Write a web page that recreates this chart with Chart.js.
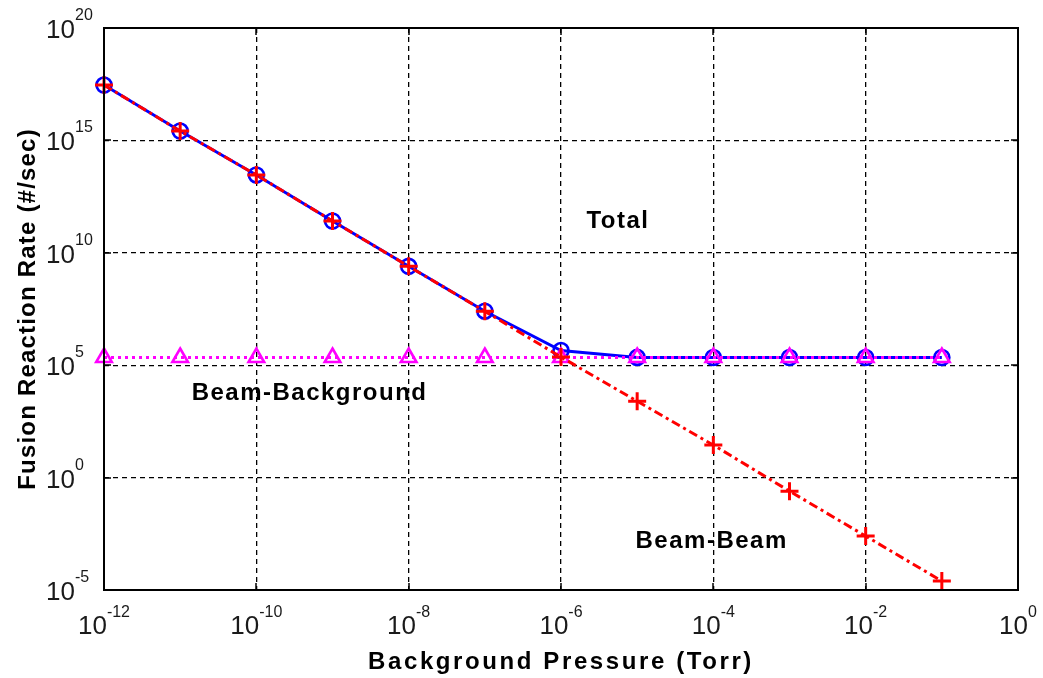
<!DOCTYPE html>
<html>
<head>
<meta charset="utf-8">
<title>Fusion Reaction Rate vs Background Pressure</title>
<script src="https://cdn.jsdelivr.net/npm/chart.js@4.4.1/dist/chart.umd.min.js"></script>
<style>
  html, body { margin: 0; padding: 0; background: #fff; }
  canvas { display: block; }
</style>
</head>
<body>
<canvas id="rateChart" width="1043" height="678"></canvas>
<script>
// Background pressure (Torr)
var pressure = [1e-12, 1e-11, 1e-10, 1e-9, 1e-8, 1e-7, 1e-6, 1e-5, 1e-4, 1e-3, 1e-2, 1e-1];

// Fusion reaction rates (#/sec)
var totalRate = [2.9e17, 2.6e15, 2.9e13, 2.6e11, 2.5e9, 2.52e7, 4.5e5, 2.22e5, 2.2e5, 2.2e5, 2.2e5, 2.2e5];
var beamBeamRate = [2.9e17, 2.6e15, 2.9e13, 2.6e11, 2.5e9, 2.5e7, 2.3e5, 2.5e3, 2.8e1, 2.5e-1, 2.5e-3, 2.5e-5];
var beamBackgroundRate = [2.2e5, 2.2e5, 2.2e5, 2.2e5, 2.2e5, 2.2e5, 2.2e5, 2.2e5, 2.2e5, 2.2e5, 2.2e5, 2.2e5];

// Decade ticks
var xTicks = [1e-12, 1e-10, 1e-8, 1e-6, 1e-4, 1e-2, 1e0];
var yTicks = [1e-5, 1e0, 1e5, 1e10, 1e15, 1e20];

// Curve names written inside the plot
var curveNames = ['Total', 'Beam-Background', 'Beam-Beam'];
var curveNameAt = [[5.6e-6, 2.5e11], [5e-10, 5.8e3], [9.5e-5, 1.5e-3]];

function points(ys) {
    return pressure.map(function (p, i) { return { x: p, y: ys[i] }; });
}

var boldFont = 'bold 24px "Liberation Sans", Arial, sans-serif';
var tickFont = '26px "Liberation Sans", Arial, sans-serif';
var expFont = '16px "Liberation Sans", Arial, sans-serif';

function spacedText(ctx, text, x, y, spacing) {
    ctx.save();
    if ('letterSpacing' in ctx) ctx.letterSpacing = spacing + 'px';
    ctx.fillText(text, x, y);
    ctx.restore();
}

// Frame, inward tick marks, power-of-ten labels and titles
var matlabAxes = {
    id: 'matlabAxes',
    beforeDraw: function (chart) {
        var ctx = chart.ctx;
        ctx.save();
        ctx.fillStyle = '#fff';
        ctx.fillRect(0, 0, chart.width, chart.height);
        ctx.restore();
    },
    afterDraw: function (chart) {
        var ctx = chart.ctx;
        var a = chart.chartArea;
        var xs = chart.scales.x, ys = chart.scales.y;
        ctx.save();

        // box
        ctx.strokeStyle = '#000';
        ctx.lineWidth = 2;
        ctx.strokeRect(a.left, a.top, a.right - a.left, a.bottom - a.top);

        // inward ticks
        ctx.lineWidth = 1.5;
        ctx.beginPath();
        xTicks.forEach(function (v) {
            var px = Math.round(xs.getPixelForValue(v));
            ctx.moveTo(px, a.bottom); ctx.lineTo(px, a.bottom - 7);
            ctx.moveTo(px, a.top); ctx.lineTo(px, a.top + 7);
        });
        yTicks.forEach(function (v) {
            var py = Math.round(ys.getPixelForValue(v));
            ctx.moveTo(a.left, py); ctx.lineTo(a.left + 7, py);
            ctx.moveTo(a.right, py); ctx.lineTo(a.right - 7, py);
        });
        ctx.stroke();

        // tick labels, 10 with a superscript exponent
        ctx.fillStyle = '#1a1a1a';
        ctx.textBaseline = 'alphabetic';
        ctx.textAlign = 'left';
        xTicks.forEach(function (v) {
            var e = String(Math.round(Math.log10(v)));
            var px = xs.getPixelForValue(v);
            ctx.font = tickFont;
            var wb = ctx.measureText('10').width;
            ctx.font = expFont;
            var we = ctx.measureText(e).width;
            var x0 = px - (wb + we) / 2;
            ctx.font = tickFont;
            ctx.fillText('10', x0, a.bottom + 44);
            ctx.font = expFont;
            ctx.fillText(e, x0 + wb, a.bottom + 27);
        });
        yTicks.forEach(function (v) {
            var e = String(Math.round(Math.log10(v)));
            var py = ys.getPixelForValue(v);
            ctx.font = tickFont;
            var wb = ctx.measureText('10').width;
            ctx.fillText('10', 75 - wb, py + 10);
            ctx.font = expFont;
            ctx.fillText(e, 75, py - 8);
        });

        // axis titles
        ctx.font = boldFont;
        ctx.fillStyle = '#000';
        ctx.textAlign = 'center';
        spacedText(ctx, 'Background Pressure (Torr)', (a.left + a.right) / 2, 669, 2.6);
        ctx.save();
        ctx.translate(35, (a.top + a.bottom) / 2);
        ctx.rotate(-Math.PI / 2);
        spacedText(ctx, 'Fusion Reaction Rate (#/sec)', 0, 0, 1.2);
        ctx.restore();

        // curve names
        ctx.textBaseline = 'middle';
        curveNames.forEach(function (name, i) {
            var px = xs.getPixelForValue(curveNameAt[i][0]);
            var py = ys.getPixelForValue(curveNameAt[i][1]);
            spacedText(ctx, name, px, py, 1.5);
        });
        ctx.restore();
    }
};

new Chart(document.getElementById('rateChart'), {
    type: 'line',
    data: {
        datasets: [{
            label: 'Total',
            data: points(totalRate),
            borderColor: '#0000ff',
            borderWidth: 3,
            pointStyle: 'circle',
            pointRadius: 7.5,
            pointBorderWidth: 2.6,
            pointBorderColor: '#0000ff',
            pointBackgroundColor: 'rgba(0,0,0,0)',
            order: 3
        }, {
            label: 'Beam-Beam',
            data: points(beamBeamRate),
            borderColor: '#ff0000',
            borderWidth: 3,
            borderDash: [9, 4, 3, 4],
            pointStyle: 'cross',
            pointRadius: 9,
            pointBorderWidth: 3,
            pointBorderColor: '#ff0000',
            order: 1
        }, {
            label: 'Beam-Background',
            data: points(beamBackgroundRate),
            borderColor: '#ff00ff',
            borderWidth: 3.2,
            borderDash: [3, 4],
            pointStyle: 'triangle',
            pointRadius: 9,
            pointBorderWidth: 2.6,
            pointBorderColor: '#ff00ff',
            pointBackgroundColor: 'rgba(0,0,0,0)',
            order: 2
        }]
    },
    options: {
        responsive: false,
        animation: false,
        clip: false,
        elements: { line: { tension: 0, fill: false } },
        layout: { padding: { top: 28, right: 25, left: 0, bottom: 0 } },
        plugins: {
            legend: { display: false },
            tooltip: { enabled: false }
        },
        scales: {
            x: {
                type: 'logarithmic',
                min: 1e-12,
                max: 1,
                afterBuildTicks: function (scale) {
                    scale.ticks = xTicks.map(function (v) { return { value: v }; });
                },
                afterFit: function (scale) { scale.height = 88; },
                ticks: { display: false },
                grid: { color: '#000', lineWidth: 1.3, drawTicks: false },
                border: { display: false, dash: [5, 4] }
            },
            y: {
                type: 'logarithmic',
                min: 1e-5,
                max: 1e20,
                afterBuildTicks: function (scale) {
                    scale.ticks = yTicks.map(function (v) { return { value: v }; });
                },
                afterFit: function (scale) { scale.width = 104; },
                ticks: { display: false },
                grid: { color: '#000', lineWidth: 1.3, drawTicks: false },
                border: { display: false, dash: [5, 4] }
            }
        }
    },
    plugins: [matlabAxes]
});
</script>
</body>
</html>
